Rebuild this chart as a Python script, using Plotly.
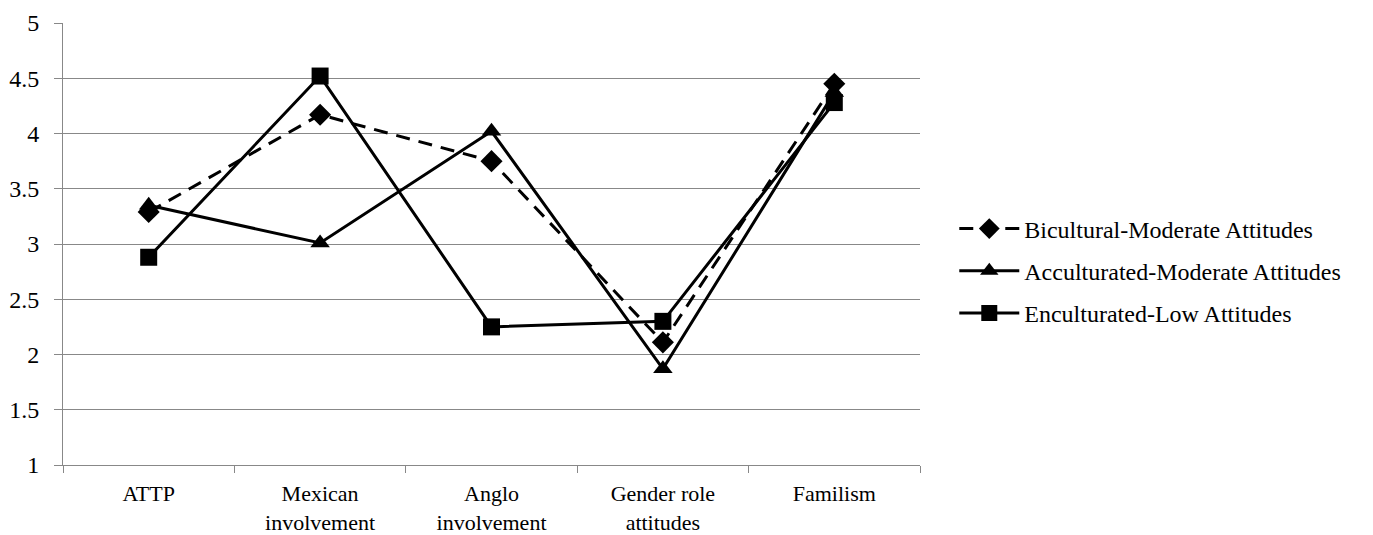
import plotly.graph_objects as go

categories = ["ATTP", "Mexican<br>involvement", "Anglo<br>involvement", "Gender role<br>attitudes", "Familism"]
bicultural = [3.29, 4.17, 3.75, 2.11, 4.45]
acculturated = [3.35, 3.01, 4.02, 1.87, 4.37]
enculturated = [2.88, 4.52, 2.25, 2.30, 4.28]
y_ticks = [1, 1.5, 2, 2.5, 3, 3.5, 4, 4.5, 5]
y_tick_text = ["1", "1.5", "2", "2.5", "3", "3.5", "4", "4.5", "5"]

FONT = "Liberation Serif"

fig = go.Figure()
fig.add_trace(go.Scatter(
    x=categories, y=bicultural, name="Bicultural-Moderate Attitudes", mode="lines+markers",
    legendgroup="a",
    line=dict(color="black", width=3, dash="14px,9px"),
    marker=dict(symbol="diamond", size=17, color="black")))
fig.add_trace(go.Scatter(
    x=categories, y=acculturated, name="Acculturated-Moderate Attitudes", mode="lines+markers",
    legendgroup="b",
    line=dict(color="black", width=3),
    marker=dict(symbol="triangle-up", size=17, color="black")))
fig.add_trace(go.Scatter(
    x=categories, y=enculturated, name="Enculturated-Low Attitudes", mode="lines+markers",
    legendgroup="c",
    line=dict(color="black", width=3),
    marker=dict(symbol="square", size=17, color="black")))

fig.update_layout(
    width=1373, height=535,
    margin=dict(l=55, r=461, t=15, b=78, autoexpand=False),
    paper_bgcolor="white", plot_bgcolor="white",
    font=dict(family=FONT, size=24, color="black"),
    legend=dict(x=1.04, y=0.439, xanchor="left", yanchor="middle",
                font=dict(family=FONT, size=24, color="black"),
                itemwidth=60, traceorder="grouped", tracegroupgap=8,
                bgcolor="rgba(0,0,0,0)"),
    showlegend=True,
)
fig.update_xaxes(
    type="category", tickson="boundaries", ticks="outside", ticklen=7, tickcolor="#888",
    showline=True, linecolor="#888", linewidth=1, showgrid=False, automargin=False,
    ticklabelstandoff=9, ticklabeloverflow="allow",
    tickfont=dict(family=FONT, size=22, color="black"), range=[-0.5, 4.5])
fig.update_yaxes(
    range=[1, 5], tickvals=y_ticks, ticktext=y_tick_text, ticks="outside", ticklen=8,
    tickcolor="#888", showline=True, linecolor="#888", linewidth=1, automargin=False,
    ticklabelstandoff=10, ticklabeloverflow="allow",
    showgrid=True, gridcolor="#888", gridwidth=1, zeroline=False,
    tickfont=dict(family=FONT, size=24, color="black"))

fig.write_html("out.html")
